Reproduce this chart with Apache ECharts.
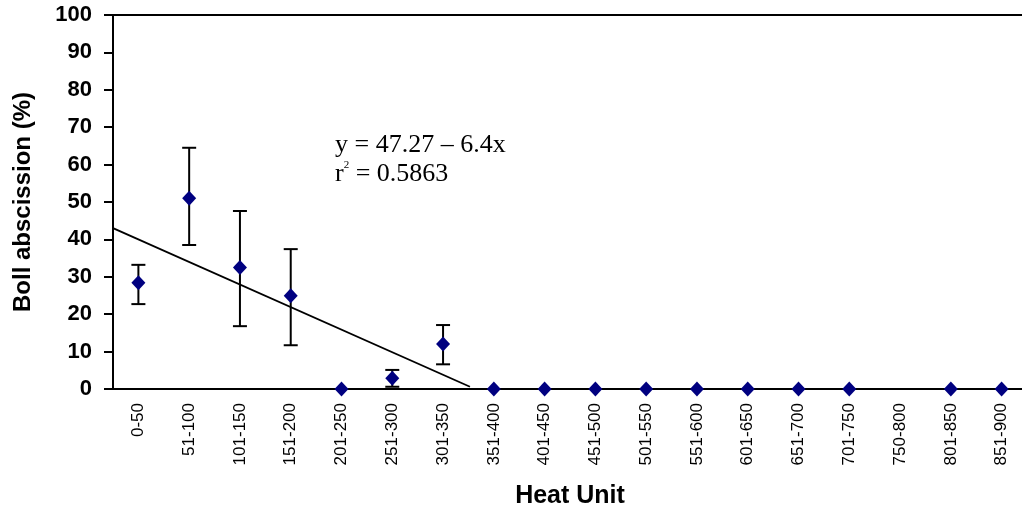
<!DOCTYPE html>
<html lang="en">
<head>
<meta charset="UTF-8">
<title>Boll abscission</title>
<script src="https://cdn.jsdelivr.net/npm/echarts@6/dist/echarts.min.js"></script>
<style>
  html, body { margin: 0; padding: 0; background: #fff; }
  #main { width: 1022px; height: 506px; }
</style>
</head>
<body>
<div id="main"></div>
<script>
// heat unit classes
var categories = ['0-50', '51-100', '101-150', '151-200', '201-250', '251-300', '301-350',
    '351-400', '401-450', '451-500', '501-550', '551-600', '601-650', '651-700',
    '701-750', '750-800', '801-850', '851-900'];
// mean boll abscission (%), null = no point
var means = [28.4, 51.0, 32.5, 24.9, 0, 2.9, 12.0, 0, 0, 0, 0, 0, 0, 0, 0, null, 0, 0];
// error bar limits
var errLow = [22.7, 38.5, 16.8, 11.7, null, 0.6, 6.6];
var errHigh = [33.2, 64.5, 47.6, 37.4, null, 5.1, 17.1];
// fitted line as drawn (x in category index units)
var trendX = [-0.5, 6.53];
var trendY = [43.0, 0.6];

var errData = [];
for (var i = 0; i < errLow.length; i++) {
    if (errLow[i] != null) errData.push([i, errLow[i], errHigh[i]]);
}
var trendData = trendX.map(function (x, k) { return [x, trendY[k]]; });

var myChart = echarts.init(document.getElementById('main'));

var option = {
    animation: false,
    grid: {
        left: 113, top: 15, width: 914, height: 374,
        outerBoundsMode: 'none',
        show: true, borderColor: '#000', borderWidth: 2, backgroundColor: 'transparent'
    },
    xAxis: [
        {
            type: 'category',
            data: categories,
            boundaryGap: true,
            axisLine: { lineStyle: { color: '#000', width: 2 } },
            axisTick: { length: 5, lineStyle: { color: '#000', width: 2 } },
            axisLabel: {
                rotate: 90, margin: 14, color: '#000', interval: 0,
                fontFamily: 'Liberation Sans', fontSize: 17
            },
            name: 'Heat Unit',
            nameLocation: 'middle',
            nameGap: 95,
            nameTextStyle: { color: '#000', fontFamily: 'Liberation Sans', fontWeight: 'bold', fontSize: 25 }
        },
        {
            type: 'value',
            min: -0.5, max: 17.5,
            show: false
        }
    ],
    yAxis: {
        type: 'value',
        min: 0, max: 100, interval: 10,
        splitLine: { show: false },
        axisLine: { show: true, onZero: false, lineStyle: { color: '#000', width: 2 } },
        axisTick: { show: true, length: 9, lineStyle: { color: '#000', width: 2 } },
        axisLabel: {
            margin: 21, color: '#000',
            fontFamily: 'Liberation Sans', fontWeight: 'bold', fontSize: 22
        },
        name: 'Boll abscission (%)',
        nameLocation: 'middle',
        nameGap: 78,
        nameTextStyle: { color: '#000', fontFamily: 'Liberation Sans', fontWeight: 'bold', fontSize: 24 }
    },
    series: [
        {
            name: 'trend',
            type: 'line',
            xAxisIndex: 1,
            data: trendData,
            symbol: 'none',
            lineStyle: { color: '#000', width: 1.8 },
            z: 2
        },
        {
            name: 'error',
            type: 'custom',
            xAxisIndex: 0,
            data: errData,
            renderItem: function (params, api) {
                var lo = api.coord([api.value(0), api.value(1)]);
                var hi = api.coord([api.value(0), api.value(2)]);
                var hw = 7;
                var st = { stroke: '#000', lineWidth: 2 };
                return {
                    type: 'group',
                    children: [
                        { type: 'line', shape: { x1: lo[0], y1: lo[1], x2: hi[0], y2: hi[1] }, style: st },
                        { type: 'line', shape: { x1: lo[0] - hw, y1: lo[1], x2: lo[0] + hw, y2: lo[1] }, style: st },
                        { type: 'line', shape: { x1: hi[0] - hw, y1: hi[1], x2: hi[0] + hw, y2: hi[1] }, style: st }
                    ]
                };
            },
            z: 3
        },
        {
            name: 'mean',
            type: 'scatter',
            xAxisIndex: 0,
            data: means,
            symbol: 'diamond',
            symbolSize: [14, 15],
            itemStyle: { color: '#000080', opacity: 1 },
            z: 4
        }
    ],
    graphic: [
        {
            type: 'text', left: 335, top: 131,
            style: {
                text: 'y = 47.27 \u2013 6.4x\nr{s|2} = 0.5863',
                fill: '#000', fontFamily: 'Liberation Serif', fontSize: 26, lineHeight: 29,
                rich: { s: { fontSize: 11, verticalAlign: 'top', fontFamily: 'Liberation Serif', padding: [0, 0, 10, 0] } }
            }
        }
    ]
};

myChart.setOption(option);
</script>
</body>
</html>
